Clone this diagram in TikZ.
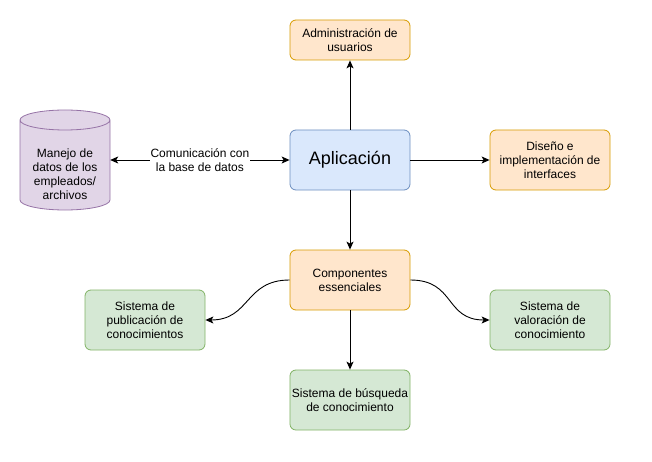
\documentclass[tikz,border=0pt]{standalone}
\usepackage{fontspec}
\setmainfont{Liberation Sans}
\usetikzlibrary{arrows.meta}
\definecolor{orfill}{HTML}{FFE6CC}\definecolor{ordraw}{HTML}{D79B00}
\definecolor{blfill}{HTML}{DAE8FC}\definecolor{bldraw}{HTML}{6C8EBF}
\definecolor{grfill}{HTML}{D5E8D4}\definecolor{grdraw}{HTML}{82B366}
\definecolor{pufill}{HTML}{E1D5E7}\definecolor{pudraw}{HTML}{9673A6}
\tikzset{
  box/.style={rounded corners=6pt, minimum width=120pt, minimum height=40pt, align=center, font=\fontsize{12}{14}\selectfont, line width=0.8pt, inner sep=2pt},
  orbox/.style={box, fill=orfill, draw=ordraw},
  grbox/.style={box, fill=grfill, draw=grdraw, minimum height=60pt},
  blbox/.style={box, fill=blfill, draw=bldraw, minimum height=60pt, font=\fontsize{18}{21}\selectfont},
  conn/.style={line width=0.9pt, -{Stealth[length=8pt,width=7pt,inset=2pt]}},
  lbl/.style={fill=white, align=center, font=\fontsize{12}{14}\selectfont, inner sep=1pt}
}
\begin{document}
\begin{tikzpicture}[x=1pt,y=1pt]
\useasboundingbox (0,0) rectangle (652,461);
% nodes
\node[orbox] (admin) at (350,421) {Administración de\\usuarios};
\node[blbox] (app) at (350,301) {Aplicación};
\node[orbox, minimum height=60pt] (dis) at (550,301) {Diseño e\\implementación de\\interfaces};
\node[orbox, minimum height=60pt] (comp) at (350,181) {Componentes\\essenciales};
\node[grbox] (pub) at (145,141) {Sistema de\\publicación de\\conocimientos};
\node[grbox] (val) at (550,141) {Sistema de\\valoración de\\conocimiento};
\node[grbox] (bus) at (350,61) {Sistema de búsqueda\\de conocimiento};
% cylinder
\fill[pufill] (20,341) -- (20,261) arc[start angle=180,end angle=360,x radius=45,y radius=10] -- (110,341) arc[start angle=0,end angle=180,x radius=45,y radius=10] -- cycle;
\draw[pudraw, line width=0.8pt] (20,341) -- (20,261) arc[start angle=180,end angle=360,x radius=45,y radius=10] -- (110,341) arc[start angle=0,end angle=360,x radius=45,y radius=10];
\node[align=center, font=\fontsize{12}{14}\selectfont, minimum width=90pt, inner sep=0pt] (db) at (65,287) {Manejo de\\datos de los\\empleados/\\archivos};
% connectors
\draw[conn] (app) -- (admin);
\draw[conn] (app) -- (dis);
\draw[conn] (app) -- (comp);
\draw[conn] (comp) -- (bus);
\draw[line width=0.9pt, {Stealth[length=8pt,width=7pt,inset=2pt]}-{Stealth[length=8pt,width=7pt,inset=2pt]}] (db.east |- app.west) -- node[lbl] (lab) {Comunicación con\\la base de datos} (app.west);
\draw[conn] (comp.west) .. controls +(-45,0) and +(45,0) .. (pub.east);
\draw[conn] (comp.east) .. controls +(45,0) and +(-45,0) .. (val.west);
\end{tikzpicture}
\end{document}
